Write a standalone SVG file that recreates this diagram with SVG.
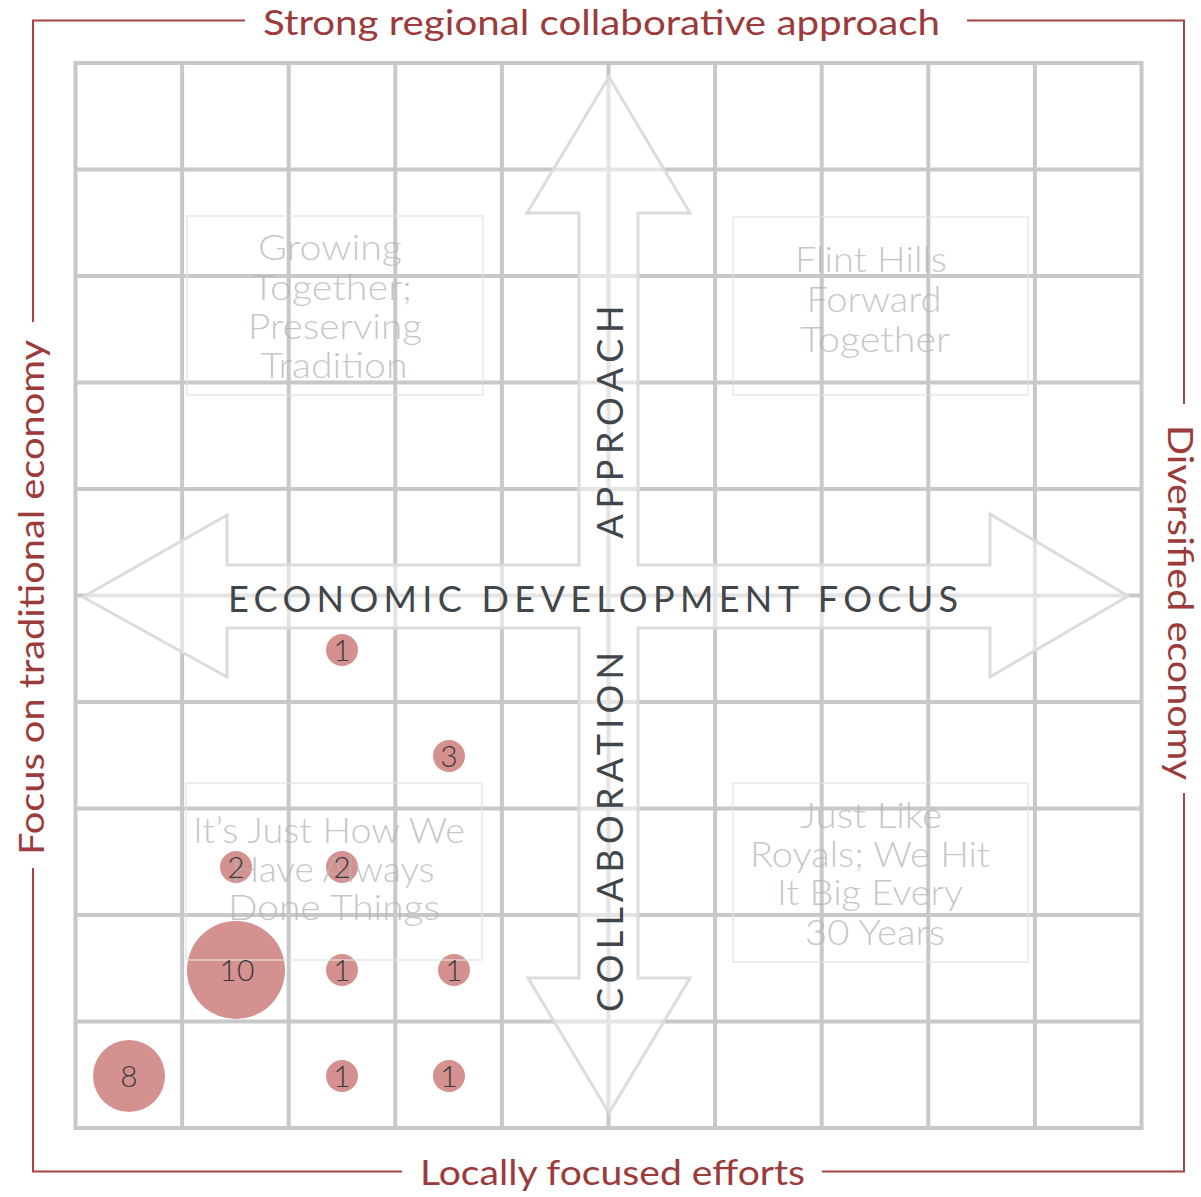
<svg xmlns="http://www.w3.org/2000/svg" width="1201" height="1197" viewBox="0 0 1201 1197">
<style>
.red{font-family:Lato,"Liberation Sans",sans-serif;font-size:35px;fill:#9b3b3b;font-weight:400}
.frame{stroke:#a64444;stroke-width:2;fill:none}
.grid{stroke:#c8c8c8;stroke-width:4;fill:none}
.arrow{fill:#ffffff;fill-opacity:0.5;stroke:#dcdcdc;stroke-width:3;stroke-linejoin:miter}
.axis{font-family:Lato,"Liberation Sans",sans-serif;font-size:36px;fill:#41464b;font-weight:400}
.scen rect{fill:none;stroke:#e2e2e2;stroke-width:1.2}
.scen text{font-family:Lato,"Liberation Sans",sans-serif;font-size:35px;fill:#b4b4b4;fill-opacity:0.75;font-weight:300;text-anchor:middle}
.dot circle{fill:#d4918f}
.dot text{font-family:Lato,"Liberation Sans",sans-serif;font-size:30px;fill:#3a3a3a;font-weight:300;text-anchor:middle}
</style>
<rect width="1201" height="1197" fill="#ffffff"/>
<g id="grid" class="grid">
<rect x="75.5" y="63" width="1066" height="1065"/>
<path d="M182.1 63V1128M288.7 63V1128M395.3 63V1128M501.9 63V1128M608.5 63V1128M715.1 63V1128M821.7 63V1128M928.3 63V1128M1034.9 63V1128M75.5 169.5H1141.5M75.5 276H1141.5M75.5 382.5H1141.5M75.5 489H1141.5M75.5 595.5H1141.5M75.5 702H1141.5M75.5 808.5H1141.5M75.5 915H1141.5M75.5 1021.5H1141.5"/>
</g>
<g id="connectors">
<path class="arrow" d="M609 77 L690 213 L638 213 L638 565 L990 565 L990 514 L1128 596 L990 677 L990 628 L638 628 L638 978 L690 978 L609 1113 L528 978 L579 978 L579 628 L227 628 L227 677 L83 597 L227 515 L227 565 L579 565 L579 213 L527 213 Z"/>
<g id="frame" class="frame">
<path d="M245 20.5H33V322"/>
<path d="M967 20.5H1184V404"/>
<path d="M33 868V1171.5H402"/>
<path d="M822 1171.5H1184V793"/>
</g>
</g>
<g id="label-top"><text class="red" x="601.5" y="35" text-anchor="middle" textLength="677" lengthAdjust="spacingAndGlyphs">Strong regional collaborative approach</text></g>
<g id="label-bottom"><text class="red" x="612.5" y="1185" text-anchor="middle" font-size="36" textLength="385" lengthAdjust="spacingAndGlyphs">Locally focused efforts</text></g>
<g id="label-left"><text class="red" transform="translate(44 597.5) rotate(-90)" x="0" y="0" text-anchor="middle" textLength="515" lengthAdjust="spacingAndGlyphs">Focus on traditional economy</text></g>
<g id="label-right"><text class="red" transform="translate(1168 602.5) rotate(90)" x="0" y="0" text-anchor="middle" font-size="34" textLength="355" lengthAdjust="spacingAndGlyphs">Diversified economy</text></g>
<g id="axis-h"><text class="axis" x="593" y="612" text-anchor="middle" textLength="730" lengthAdjust="spacing">ECONOMIC DEVELOPMENT FOCUS</text></g>
<g id="axis-v-top"><text class="axis" transform="translate(623 422) rotate(-90)" x="0" y="0" text-anchor="middle" textLength="233" lengthAdjust="spacing">APPROACH</text></g>
<g id="axis-v-bottom"><text class="axis" transform="translate(623 832) rotate(-90)" x="0" y="0" text-anchor="middle" textLength="360" lengthAdjust="spacing">COLLABORATION</text></g>
<g id="dot-1a" class="dot"><circle cx="342" cy="650" r="16"/></g>
<g id="dot-3" class="dot"><circle cx="449" cy="756" r="16"/></g>
<g id="dot-2a" class="dot"><circle cx="236" cy="867" r="16"/></g>
<g id="dot-2b" class="dot"><circle cx="342" cy="867" r="16"/></g>
<g id="dot-10" class="dot"><circle cx="236" cy="970" r="49"/></g>
<g id="dot-1b" class="dot"><circle cx="342" cy="970" r="16"/></g>
<g id="dot-1c" class="dot"><circle cx="454" cy="970" r="16"/></g>
<g id="dot-8" class="dot"><circle cx="129" cy="1076" r="36"/></g>
<g id="dot-1d" class="dot"><circle cx="342" cy="1076" r="16"/></g>
<g id="dot-1e" class="dot"><circle cx="449" cy="1076" r="16"/></g>
<g id="scenario-tl" class="scen">
<rect x="187" y="216" width="296" height="179"/>
<text x="330" y="260" textLength="144" lengthAdjust="spacingAndGlyphs">Growing</text>
<text x="332" y="300" textLength="160" lengthAdjust="spacingAndGlyphs">Together;</text>
<text x="335" y="339" textLength="174" lengthAdjust="spacingAndGlyphs">Preserving</text>
<text x="334" y="378" textLength="147" lengthAdjust="spacingAndGlyphs">Tradition</text>
</g>
<g id="scenario-tr" class="scen">
<rect x="733" y="217" width="295" height="178"/>
<text x="871" y="272" textLength="152" lengthAdjust="spacingAndGlyphs">Flint Hills</text>
<text x="874" y="312" textLength="135" lengthAdjust="spacingAndGlyphs">Forward</text>
<text x="875" y="352" textLength="150" lengthAdjust="spacingAndGlyphs">Together</text>
</g>
<g id="scenario-bl" class="scen">
<rect x="186" y="783" width="296" height="177"/>
<text x="329" y="843" textLength="272" lengthAdjust="spacingAndGlyphs">It’s Just How We</text>
<text x="333" y="882" textLength="203" lengthAdjust="spacingAndGlyphs">Have Always</text>
<text x="334" y="920" textLength="212" lengthAdjust="spacingAndGlyphs">Done Things</text>
</g>
<g id="scenario-br" class="scen">
<rect x="733" y="783" width="295" height="179"/>
<text x="871" y="828" textLength="142" lengthAdjust="spacingAndGlyphs">Just Like</text>
<text x="870" y="867" textLength="240" lengthAdjust="spacingAndGlyphs">Royals; We Hit</text>
<text x="870" y="905" textLength="186" lengthAdjust="spacingAndGlyphs">It Big Every</text>
<text x="875" y="945" textLength="140" lengthAdjust="spacingAndGlyphs">30 Years</text>
</g>
<g id="dot-labels" class="dot">
<text x="342" y="661">1</text>
<text x="449" y="767">3</text>
<text x="236" y="878">2</text>
<text x="342" y="878">2</text>
<text x="237" y="981">10</text>
<text x="342" y="981">1</text>
<text x="454" y="981">1</text>
<text x="129" y="1087">8</text>
<text x="342" y="1087">1</text>
<text x="449" y="1087">1</text>
</g>
</svg>
